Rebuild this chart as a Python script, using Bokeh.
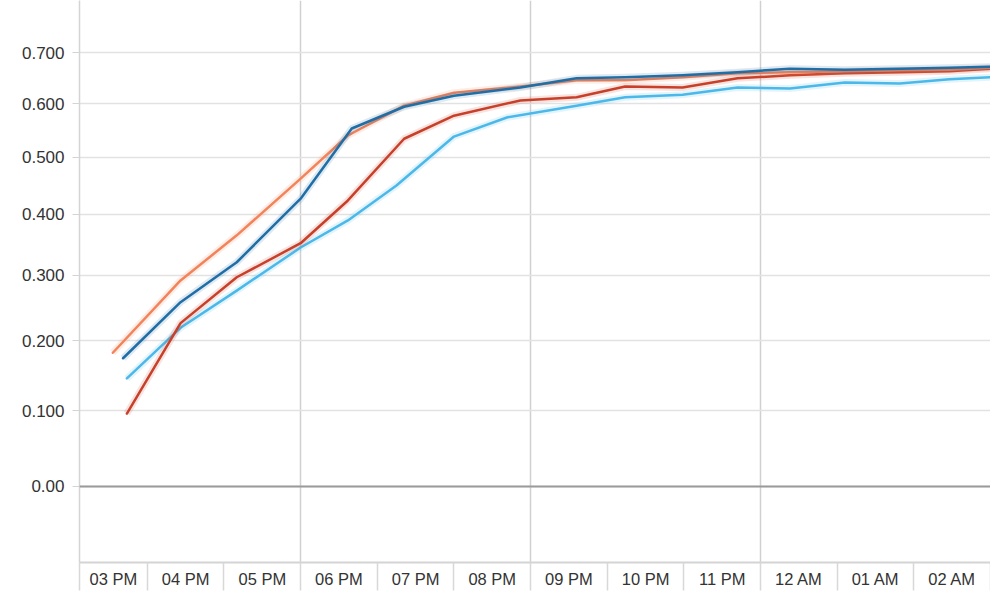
import numpy as np
from bokeh.plotting import figure
from bokeh.models import FixedTicker, Range1d, Span
from bokeh.embed import file_html
from bokeh.resources import INLINE

# ---------------- data ----------------
red_times = ["15:44", "16:26", "17:10", "18:00", "18:37", "19:21", "20:00", "20:52", "21:36",
             "22:14", "22:59", "23:42", "00:23", "01:06", "01:49", "02:28", "03:00"]
red_vals = [0.096, 0.226, 0.297, 0.352, 0.424, 0.534, 0.577, 0.606, 0.612,
            0.633, 0.631, 0.649, 0.655, 0.659, 0.661, 0.663, 0.668]

lblue_times = ["15:44", "16:26", "17:10", "18:00", "18:37", "19:15", "20:00", "20:42", "21:36",
               "22:14", "22:59", "23:42", "00:23", "01:06", "01:49", "02:28", "03:00"]
lblue_vals = [0.145, 0.219, 0.276, 0.345, 0.390, 0.450, 0.538, 0.574, 0.596,
              0.612, 0.617, 0.631, 0.629, 0.641, 0.639, 0.647, 0.651]

dblue_times = ["15:41", "16:26", "17:10", "18:00", "18:40", "19:21", "20:00", "20:52", "21:36",
               "22:14", "22:59", "23:42", "00:23", "01:06", "01:49", "02:28", "03:00"]
dblue_vals = [0.174, 0.258, 0.321, 0.427, 0.553, 0.594, 0.615, 0.631, 0.649,
              0.651, 0.655, 0.661, 0.668, 0.666, 0.668, 0.670, 0.672]

orange_times = ["15:33", "16:26", "17:10", "18:00", "18:37", "19:21", "20:00", "20:52", "21:36",
                "22:14", "22:59", "23:42", "00:23", "01:06", "01:49", "02:28", "03:00"]
orange_vals = [0.182, 0.292, 0.365, 0.462, 0.540, 0.596, 0.621, 0.633, 0.645,
               0.645, 0.651, 0.659, 0.661, 0.663, 0.665, 0.666, 0.670]

y_tick_vals = [0.0, 0.1, 0.2, 0.3, 0.4, 0.5, 0.6, 0.7]
y_tick_labels = ["0.00", "0.100", "0.200", "0.300", "0.400", "0.500", "0.600", "0.700"]

x_hours = [15, 16, 17, 18, 19, 20, 21, 22, 23, 24, 25, 26]
x_labels = ["03 PM", "04 PM", "05 PM", "06 PM", "07 PM", "08 PM",
            "09 PM", "10 PM", "11 PM", "12 AM", "01 AM", "02 AM"]
grid_hours = [18, 21, 24]

# ---------------- scale helpers ----------------
OFFSET = 1.17  # compressed value scale used by the original chart


def ty(v):
    return np.log(np.asarray(v, dtype=float) + OFFSET)


def th(ts):
    out = []
    for t in ts:
        h, m = t.split(":")
        v = int(h) + int(m) / 60.0
        if v < 12:
            v += 24
        out.append(v)
    return out


p = figure(width=990, height=592, output_backend="svg", toolbar_location=None,
           x_range=Range1d(15.115, 27.0),
           y_range=Range1d(float(ty(-0.0923)), float(ty(0.8087))),
           min_border_left=79, min_border_right=0, min_border_top=0, min_border_bottom=30)
p.outline_line_color = None
p.background_fill_color = "white"
p.border_fill_color = "white"

# y axis
yax = p.yaxis[0]
yax.ticker = FixedTicker(ticks=[float(t) for t in ty(y_tick_vals)])
yax.major_label_overrides = {float(t): l for t, l in zip(ty(y_tick_vals), y_tick_labels)}
yax.axis_line_color = "#d4d4d4"
yax.axis_line_width = 1.5
yax.major_tick_line_color = "#d4d4d4"
yax.major_tick_out = 7
yax.major_tick_in = 0
yax.minor_tick_line_color = None
yax.major_label_standoff = 8
yax.major_label_text_font = "Liberation Sans"
yax.major_label_text_font_size = "17px"
yax.major_label_text_color = "#333333"

# x axis: labels centered in hour boxes, separators as minor ticks
xax = p.xaxis[0]
centers = [h + 0.5 for h in x_hours]
centers[0] = (15.115 + 16) / 2
xax.ticker = FixedTicker(ticks=centers, minor_ticks=[15.118] + [h + 1 for h in x_hours])
xax.major_label_overrides = {c: l for c, l in zip(centers, x_labels)}
xax.axis_line_color = "#d4d4d4"
xax.axis_line_width = 2
xax.major_tick_line_color = None
xax.major_tick_out = 0
xax.major_tick_in = 0
xax.minor_tick_line_color = "#d8d8d8"
xax.minor_tick_line_width = 1.5
xax.minor_tick_out = 28
xax.minor_tick_in = 0
xax.major_label_standoff = -21
xax.major_label_text_font = "Liberation Sans"
xax.major_label_text_font_size = "16.5px"
xax.major_label_text_color = "#333333"

# grids
p.ygrid.grid_line_color = "#e2e2e2"
p.ygrid.grid_line_width = 1.5
p.xgrid.ticker = FixedTicker(ticks=grid_hours)
p.xgrid.grid_line_color = "#d0d0d0"
p.xgrid.grid_line_width = 1.5

p.add_layout(Span(location=float(ty(0.0)), dimension="width",
                  line_color="#9a9a9a", line_width=2))

series = [
    (lblue_times, lblue_vals, "#4ab8e8"),
    (red_times, red_vals, "#c8402a"),
    (orange_times, orange_vals, "#f2835a"),
    (dblue_times, dblue_vals, "#1f6ea6"),
]
for times, vals, col in series:
    xs = th(times)
    ys = ty(vals)
    p.line(xs, ys, line_color=col, line_width=7, line_alpha=0.15, line_join="round")
    p.line(xs, ys, line_color=col, line_width=2.5, line_join="round", line_cap="round")

open("out.html", "w").write(file_html(p, INLINE))
